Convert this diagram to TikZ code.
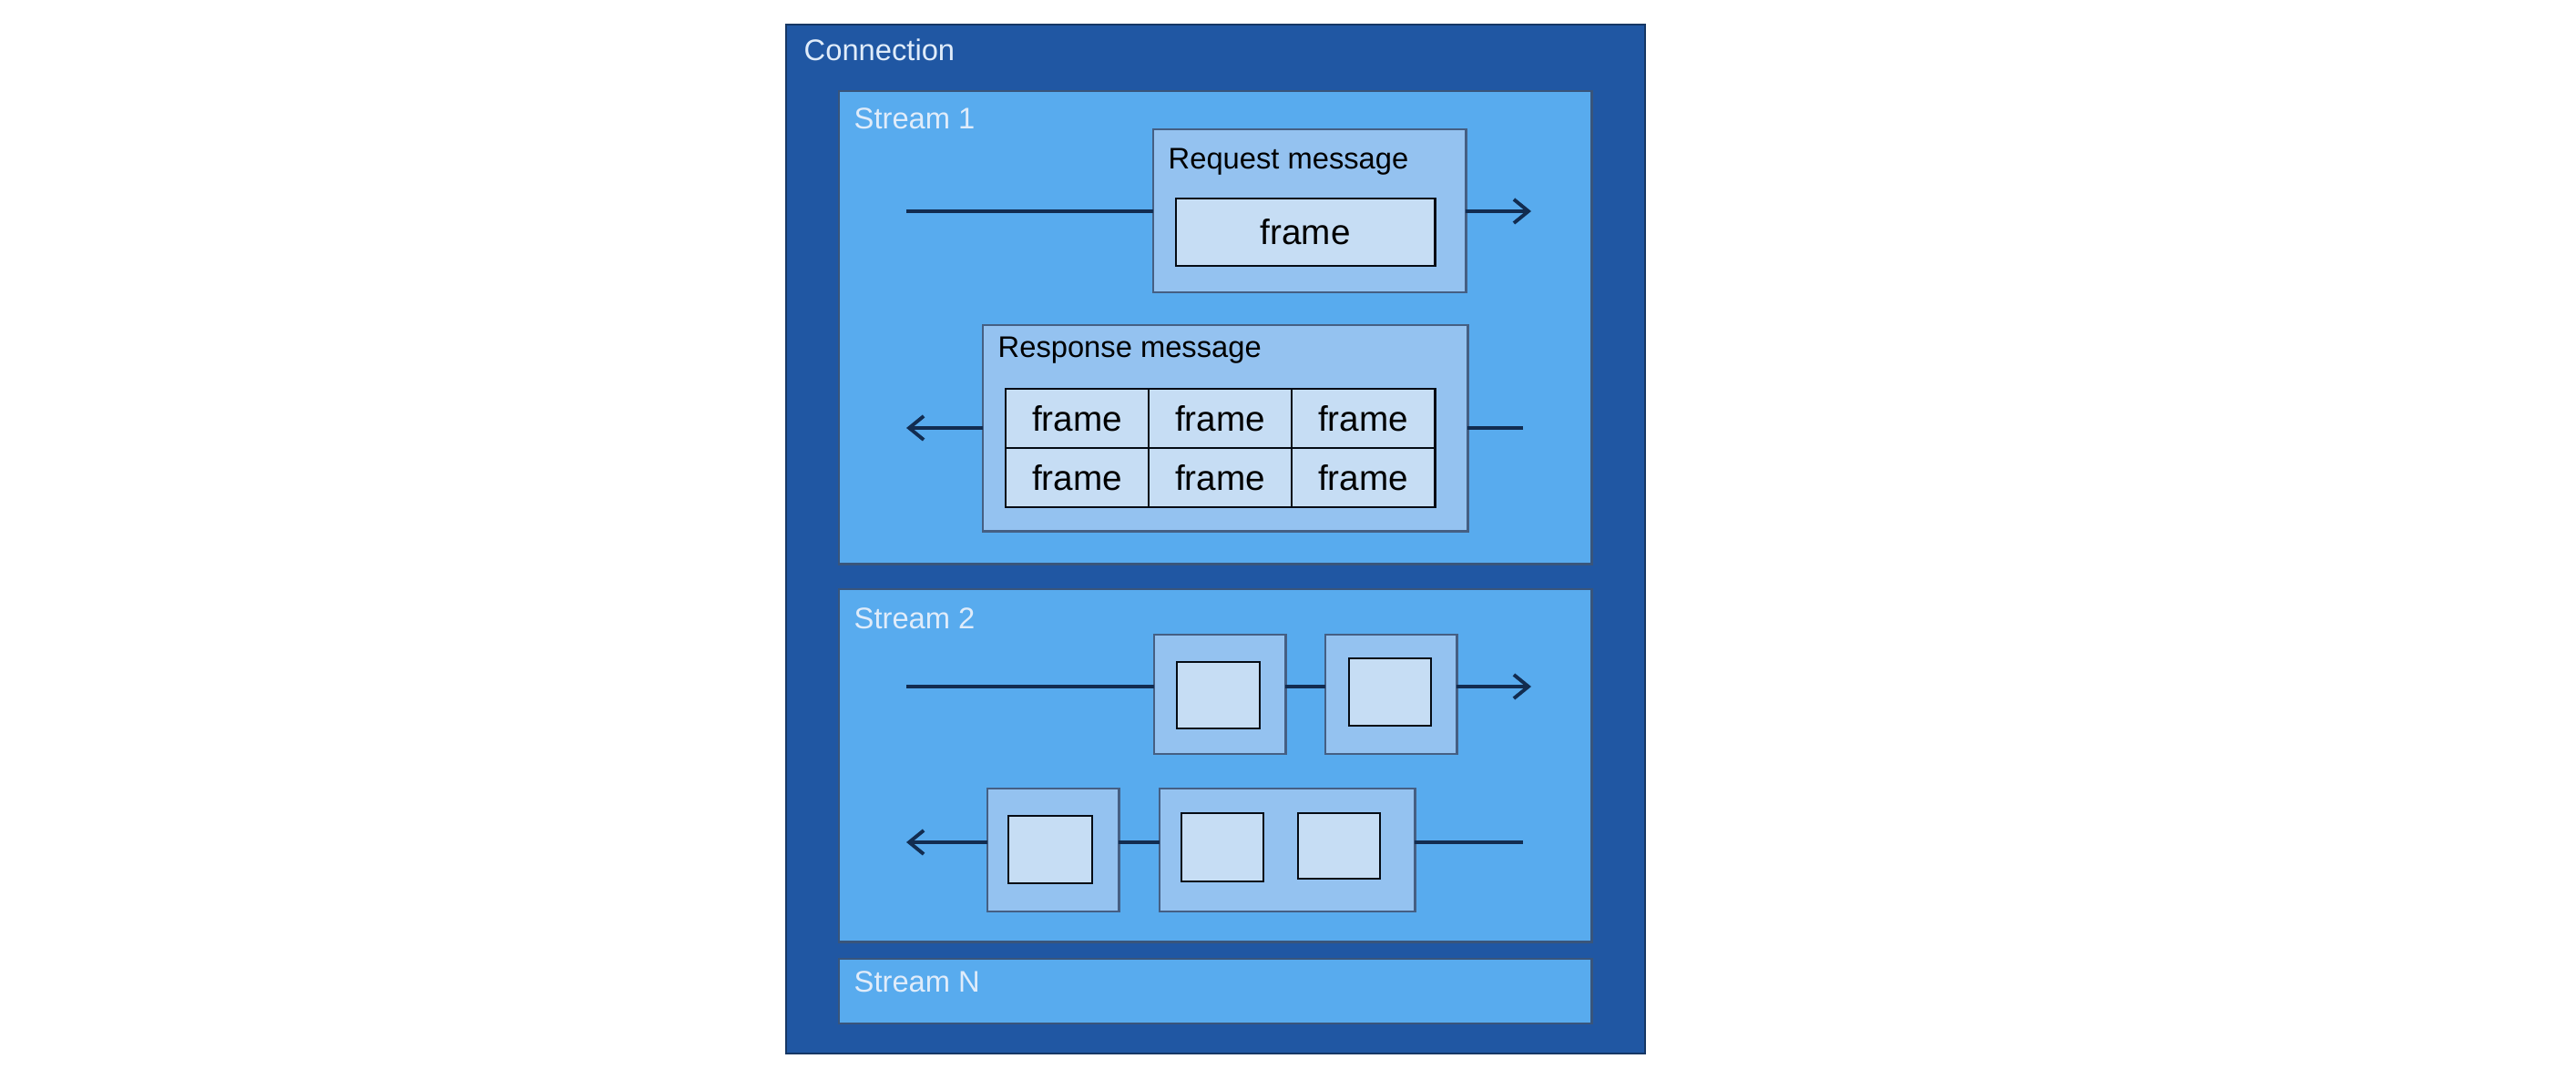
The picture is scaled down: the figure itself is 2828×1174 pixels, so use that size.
\documentclass[tikz,border=0pt]{standalone}
\usepackage{fontspec}
\setmainfont{Liberation Sans}
\usepackage{tikz}
\usetikzlibrary{arrows.meta,positioning,calc}
\definecolor{connblue}{RGB}{32,87,163}
\definecolor{streamblue}{RGB}{88,171,238}
\definecolor{msgblue}{RGB}{148,194,240}
\definecolor{framefill}{RGB}{198,221,244}
\definecolor{edgeblue}{RGB}{22,55,100}
\definecolor{titlewhite}{RGB}{224,236,250}

\tikzset{
  box/.style={anchor=north west, inner sep=0pt, outer sep=0pt},
  connbox/.style={box, draw=edgeblue, fill=connblue, line width=0.6pt},
  streambox/.style={box, draw=edgeblue!85, fill=streamblue, line width=0.8pt, minimum width=8.26cm},
  msgbox/.style={box, draw=edgeblue!80, fill=msgblue, line width=0.8pt},
  framebox/.style={box, draw=black!80!edgeblue, fill=framefill, line width=0.8pt,
    font=\fontsize{11}{13}\selectfont},
  boxtitle/.style={anchor=base west, inner sep=0pt, font=\fontsize{9.3}{11}\selectfont},
  wire/.style={draw=edgeblue!80!black, line width=1.1pt},
  flow/.style={wire, -{Straight Barb[length=1.6mm,width=2.6mm,line width=1.1pt]}}
}

\begin{document}
\begin{tikzpicture}[x=0.01cm,y=-0.01cm]
  \fill[white] (0,0) rectangle (2828,1174);
  \useasboundingbox (0,0) rectangle (2828,1174);

  \node[connbox, minimum width=9.42cm, minimum height=11.29cm] (conn) at (863,27) {};
  \node[boxtitle, text=titlewhite] (conntitle) at ($(conn.north west)+(19,40)$) {Connection};

  % stream 1
  \node[streambox, minimum height=5.19cm] (s1) at (921,100) {};
  \node[boxtitle, text=titlewhite] (s1title) at ($(s1.north west)+(16,42)$) {Stream 1};

  \node[msgbox, minimum width=3.43cm, minimum height=1.79cm] (req) at (1266,142) {};
  \node[boxtitle] (reqtitle) at ($(req.north west)+(16,44)$) {Request message};
  \node[framebox, minimum width=2.84cm, minimum height=0.74cm] (reqframe) at (1291,218) {frame};

  \coordinate (reqin) at (995,232);
  \coordinate (reqout) at (1681,232);
  \draw[wire] (reqin) -- (reqin -| req.west);
  \draw[flow] (reqout -| req.east) -- (reqout);

  \node[msgbox, minimum width=5.32cm, minimum height=2.26cm] (resp) at (1079,357) {};
  \node[boxtitle] (resptitle) at ($(resp.north west)+(16,36)$) {Response message};
  \foreach \r in {0,1}
    \foreach \c in {0,1,2}
      \node[framebox, minimum width=1.57cm, minimum height=0.65cm] (resp\r\c)
        at ({1104+157*\c},{427+65*\r}) {frame};

  \coordinate (respin) at (1672,470);
  \coordinate (respout) at (995,470);
  \draw[wire] (respin) -- (respin -| resp.east);
  \draw[flow] (respout -| resp.west) -- (respout);

  % stream 2
  \node[streambox, minimum height=3.87cm] (s2) at (921,647) {};
  \node[boxtitle, text=titlewhite] (s2title) at ($(s2.north west)+(16,44)$) {Stream 2};

  \node[msgbox, minimum width=1.44cm, minimum height=1.31cm] (upa) at (1267,697) {};
  \node[framebox, minimum width=0.91cm, minimum height=0.73cm] (upaf) at (1292,727) {};
  \node[msgbox, minimum width=1.44cm, minimum height=1.31cm] (upb) at (1455,697) {};
  \node[framebox, minimum width=0.90cm, minimum height=0.74cm] (upbf) at (1481,723) {};

  \coordinate (upin) at (995,754);
  \coordinate (upout) at (1681,754);
  \draw[wire] (upin) -- (upin -| upa.west);
  \draw[wire] (upin -| upa.east) -- (upin -| upb.west);
  \draw[flow] (upout -| upb.east) -- (upout);

  \node[msgbox, minimum width=1.44cm, minimum height=1.35cm] (downa) at (1084,866) {};
  \node[framebox, minimum width=0.92cm, minimum height=0.74cm] (downaf) at (1107,896) {};
  \node[msgbox, minimum width=2.80cm, minimum height=1.35cm] (downb) at (1273,866) {};
  \node[framebox, minimum width=0.90cm, minimum height=0.75cm] (downbf) at (1297,893) {};
  \node[framebox, minimum width=0.90cm, minimum height=0.72cm] (downbg) at (1425,893) {};

  \coordinate (downin) at (1672,925);
  \coordinate (downout) at (995,925);
  \draw[wire] (downin) -- (downin -| downb.east);
  \draw[wire] (downin -| downb.west) -- (downin -| downa.east);
  \draw[flow] (downout -| downa.west) -- (downout);

  % stream N
  \node[streambox, minimum height=0.71cm] (sN) at (921,1053) {};
  \node[boxtitle, text=titlewhite] (sNtitle) at ($(sN.north west)+(16,37)$) {Stream N};

\end{tikzpicture}
\end{document}
